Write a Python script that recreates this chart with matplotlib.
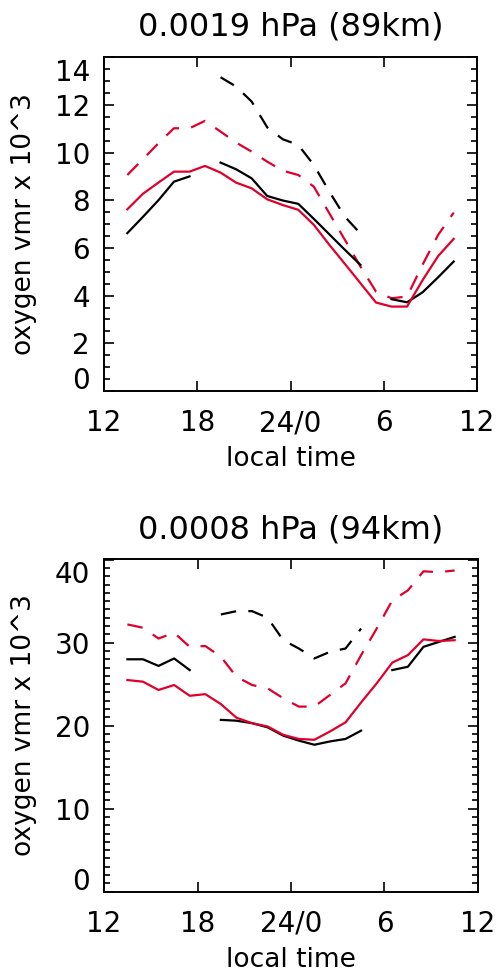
import numpy as np
import matplotlib
matplotlib.use("Agg")
import matplotlib.pyplot as plt
from matplotlib.ticker import MultipleLocator, FixedLocator
from matplotlib.transforms import ScaledTranslation

nan = np.nan

# local time of each bin (hours, 24+ means next day)
local_time = [13.5, 14.5, 15.5, 16.5, 17.5, 18.5, 19.5, 20.5, 21.5, 22.5, 23.5,
              24.5, 25.5, 26.5, 27.5, 28.5, 29.5, 30.5, 31.5, 32.5, 33.5, 34.5]

x_ticks = [12, 18, 24, 30, 36]
x_tick_labels = ["12", "18", "24/0", "6", "12"]

# 0.0019 hPa (89 km)
title_89 = "0.0019 hPa (89km)"
red_solid_89 = [7.62, 8.27, 8.74, 9.2, 9.2, 9.44, 9.16, 8.74, 8.5, 8.04, 7.8,
                7.6, 6.97, 6.13, 5.33, 4.52, 3.71, 3.54, 3.54, 4.65, 5.66, 6.38]
black_solid_89 = [6.62, 7.3, 8.0, 8.78, 9.0, nan, 9.58, 9.3, 8.92, 8.18, 7.99,
                  7.85, 7.22, 6.57, 5.92, 5.29, nan, 3.85, 3.72, 4.14, 4.77, 5.43]
red_dash_89 = [9.06, 9.72, 10.39, 11.02, 11.02, 11.33, 10.88, 10.42, 10.04, 9.62, 9.24,
               9.06, 8.57, 7.45, 6.34, 5.22, 4.17, 3.89, 3.96, 5.3, 6.55, 7.48]
black_dash_89 = [nan, nan, nan, nan, nan, nan, 13.16, 12.77, 12.14, 11.06, 10.56,
                 10.32, 9.48, 8.36, 7.31, 6.6, nan, nan, nan, nan, nan, nan]
yticks_89 = [0, 2, 4, 6, 8, 10, 12, 14]

# 0.0008 hPa (94 km)
title_94 = "0.0008 hPa (94km)"
red_solid_94 = [25.5, 25.3, 24.3, 24.9, 23.6, 23.8, 22.6, 20.96, 20.3, 19.9, 18.9,
                18.4, 18.3, 19.3, 20.4, 22.8, 25.1, 27.6, 28.5, 30.4, 30.2, 30.3]
black_solid_94 = [28.0, 28.0, 27.2, 28.1, 26.7, nan, 20.7, 20.6, 20.3, 19.8, 18.8,
                  18.2, 17.7, 18.1, 18.4, 19.4, nan, 26.7, 27.1, 29.5, 30.1, 30.7]
red_dash_94 = [32.2, 31.8, 30.5, 31.2, 29.5, 29.6, 28.3, 25.9, 24.9, 24.5, 23.3,
               22.3, 22.3, 23.7, 25.1, 28.5, 31.7, 35.1, 36.3, 38.6, 38.5, 38.7]
black_dash_94 = [nan, nan, nan, nan, nan, nan, 33.4, 33.8, 33.8, 33.0, 30.3,
                 29.3, 28.1, 28.9, 29.3, 31.7, nan, nan, nan, nan, nan, nan]
yticks_94 = [0, 10, 20, 30, 40]

RED = "#e0002c"
plt.rcParams["font.family"] = ["DejaVu Sans"]

fig = plt.figure(figsize=(4.96, 9.75), dpi=100)
ax_top = fig.add_axes([0.2097, 0.599, 0.752, 0.3428])
ax_bot = fig.add_axes([0.2097, 0.0855, 0.754, 0.3413])


def draw_panel(ax, title, rs, bs, rd, bd, yticks, ymax, minor):
    lw = 1.6
    dash = (7, 5.5)
    ax.plot(local_time, rd, color=RED, lw=lw, dashes=dash)
    ax.plot(local_time, bd, color="black", lw=lw, dashes=dash)
    ax.plot(local_time, bs, color="black", lw=lw)
    ax.plot(local_time, rs, color=RED, lw=lw)

    ax.set_xlim(12, 36)
    ax.set_ylim(0, ymax)
    ax.xaxis.set_major_locator(FixedLocator(x_ticks))
    ax.set_xticklabels(x_tick_labels)
    ax.yaxis.set_major_locator(FixedLocator(yticks))
    ax.set_yticklabels([str(v) for v in yticks])
    ax.yaxis.set_minor_locator(MultipleLocator(minor))

    ax.tick_params(axis="both", which="both", direction="in",
                   top=True, right=True, width=1.2, labelsize=20)
    ax.tick_params(axis="both", which="major", length=7)
    ax.tick_params(axis="y", which="minor", length=4)
    ax.tick_params(axis="x", which="major", pad=13)
    ax.tick_params(axis="y", which="major", pad=10)
    for s in ax.spines.values():
        s.set_linewidth(1.4)

    ax.set_title(title, fontsize=23, pad=15)
    ax.set_xlabel("local time", fontsize=19)
    ax.set_ylabel("oxygen vmr x 10^3", fontsize=19)
    ax.yaxis.set_label_coords(-0.18, 0.5)
    ax.xaxis.set_label_coords(0.5, -0.165)

    # keep the end labels of the y axis inside the frame
    ticks = ax.yaxis.get_major_ticks()
    shift = 9 / 72
    ticks[0].label1.set_transform(ticks[0].label1.get_transform()
                                  + ScaledTranslation(0, shift, fig.dpi_scale_trans))
    ticks[-1].label1.set_transform(ticks[-1].label1.get_transform()
                                   + ScaledTranslation(0, -shift, fig.dpi_scale_trans))


draw_panel(ax_top, title_89, red_solid_89, black_solid_89, red_dash_89, black_dash_89,
           yticks_89, 14.02, 0.5)
draw_panel(ax_bot, title_94, red_solid_94, black_solid_94, red_dash_94, black_dash_94,
           yticks_94, 40.1, 1)

fig.savefig("out.png", dpi=100)
